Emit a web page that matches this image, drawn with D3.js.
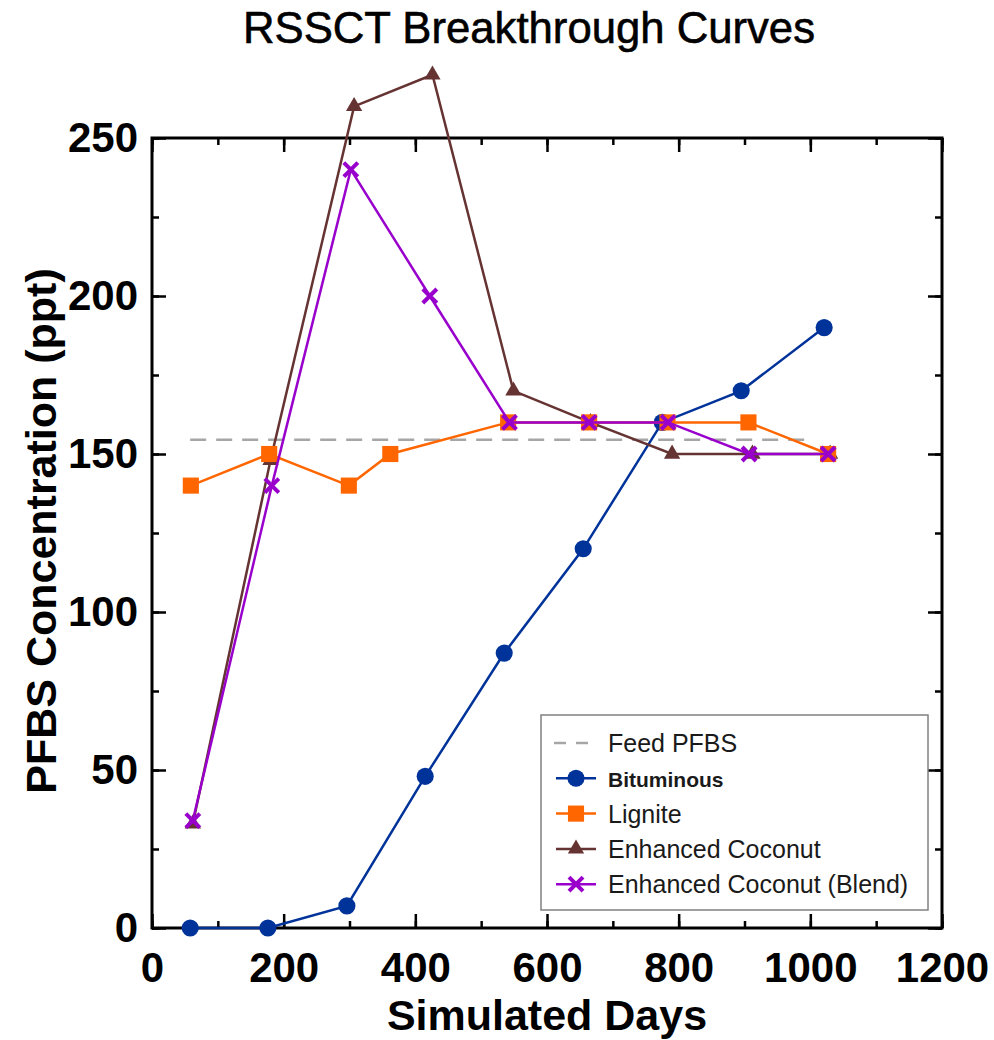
<!DOCTYPE html>
<html>
<head>
<meta charset="utf-8">
<script src="https://cdn.jsdelivr.net/npm/d3@7"></script>
<style>
  body { margin: 0; background: #fff; }
  text { font-family: "Liberation Sans", Arial, sans-serif; }
</style>
</head>
<body>
<div id="svg-area"></div>
<script>
// chart data
var bituminousDays = [58, 176, 296, 415, 535, 655, 775, 895, 1021];
var bituminousPFBS = [0, 0, 7, 48, 87, 120, 160, 170, 190];

var ligniteDays = [59, 178, 299, 362, 541, 664, 783, 906, 1027];
var lignitePFBS = [140, 150, 140, 150, 160, 160, 160, 160, 150];

var coconutDays = [62, 180, 307, 426, 549, 666, 790, 912, 1030];
var coconutPFBS = [33, 148, 260, 270, 170, 160, 150, 150, 150];

var blendDays = [62, 182, 302, 422, 543, 664, 784, 907, 1027];
var blendPFBS = [34, 140, 240, 200, 160, 160, 160, 150, 150];

var feedDays = [58, 1000];
var feedPFBS = [154.5, 154.5];

var xTickValues = [0, 200, 400, 600, 800, 1000, 1200];
var yTickValues = [0, 50, 100, 150, 200, 250];

var legendLabels = ["Feed PFBS", "Bituminous", "Lignite", "Enhanced Coconut", "Enhanced Coconut (Blend)"];

// layout
var svgWidth = 994;
var svgHeight = 1040;
var margin = { top: 138, right: 52, bottom: 112, left: 152 };
var chartWidth = svgWidth - margin.left - margin.right;
var chartHeight = svgHeight - margin.top - margin.bottom;

var svg = d3.select("#svg-area")
  .append("svg")
  .attr("width", svgWidth)
  .attr("height", svgHeight);

var chartGroup = svg.append("g")
  .attr("transform", `translate(${margin.left}, ${margin.top})`);

var xScale = d3.scaleLinear().domain([0, 1200]).range([0, chartWidth]);
var yScale = d3.scaleLinear().domain([0, 250]).range([chartHeight, 0]);

// title
svg.append("text")
  .attr("x", 529)
  .attr("y", 43)
  .attr("text-anchor", "middle")
  .attr("font-family", "'DejaVu Sans Condensed', 'DejaVu Sans', sans-serif")
  .attr("font-size", 45)
  .attr("textLength", 572)
  .attr("lengthAdjust", "spacingAndGlyphs")
  .attr("stroke", "#000")
  .attr("stroke-width", 0.6)
  .text("RSSCT Breakthrough Curves");

// ticks, inside, on all four sides
function tickLines(g, axisFn, scale, values, size) {
  g.call(axisFn(scale).tickValues(values).tickSize(size).tickFormat(""))
    .call(s => s.select(".domain").remove())
    .call(s => s.selectAll("line").attr("stroke", "#000").attr("stroke-width", 2.5));
}
var xMinor = d3.range(0, 1201, 100);
var yMinor = d3.range(0, 251, 25);

tickLines(chartGroup.append("g").attr("transform", `translate(0,${chartHeight})`), d3.axisTop, xScale, xMinor, 7);
tickLines(chartGroup.append("g").attr("transform", `translate(0,${chartHeight})`), d3.axisTop, xScale, xTickValues, 14);
tickLines(chartGroup.append("g"), d3.axisBottom, xScale, xMinor, 7);
tickLines(chartGroup.append("g"), d3.axisBottom, xScale, xTickValues, 14);
tickLines(chartGroup.append("g"), d3.axisRight, yScale, yMinor, 7);
tickLines(chartGroup.append("g"), d3.axisRight, yScale, yTickValues, 14);
tickLines(chartGroup.append("g").attr("transform", `translate(${chartWidth},0)`), d3.axisLeft, yScale, yMinor, 7);
tickLines(chartGroup.append("g").attr("transform", `translate(${chartWidth},0)`), d3.axisLeft, yScale, yTickValues, 14);

// tick labels
var bottomAxis = d3.axisBottom(xScale).tickValues(xTickValues).tickSize(0).tickPadding(24).tickFormat(d3.format("d"));
chartGroup.append("g")
  .attr("transform", `translate(0,${chartHeight})`)
  .call(bottomAxis)
  .call(g => g.select(".domain").remove())
  .selectAll("text")
  .attr("font-family", "'Liberation Sans', Arial, sans-serif")
  .attr("font-size", 42)
  .attr("font-weight", "bold")
  .attr("fill", "#000");

var leftAxis = d3.axisLeft(yScale).tickValues(yTickValues).tickSize(0).tickPadding(14);
chartGroup.append("g")
  .call(leftAxis)
  .call(g => g.select(".domain").remove())
  .selectAll("text")
  .attr("font-family", "'Liberation Sans', Arial, sans-serif")
  .attr("font-size", 42)
  .attr("font-weight", "bold")
  .attr("fill", "#000");

// frame
chartGroup.append("rect")
  .attr("width", chartWidth)
  .attr("height", chartHeight)
  .attr("fill", "none")
  .attr("stroke", "#000")
  .attr("stroke-width", 3);

// axis titles
svg.append("text")
  .attr("x", 547)
  .attr("y", 1030)
  .attr("text-anchor", "middle")
  .attr("font-size", 43)
  .attr("font-weight", "bold")
  .text("Simulated Days");

svg.append("text")
  .attr("transform", "translate(56,531) rotate(-90)")
  .attr("text-anchor", "middle")
  .attr("font-size", 43)
  .attr("font-weight", "bold")
  .text("PFBS Concentration (ppt)");

// series
var line = d3.line().x(d => xScale(d[0])).y(d => yScale(d[1]));
var zip = (xs, ys) => xs.map((x, i) => [x, ys[i]]);

chartGroup.append("path")
  .datum(zip(feedDays, feedPFBS))
  .attr("d", line)
  .attr("fill", "none")
  .attr("stroke", "#a6a6a6")
  .attr("stroke-width", 2.5)
  .attr("stroke-dasharray", "16,10");

var bituminous = { data: zip(bituminousDays, bituminousPFBS), color: "#00339a", shape: d3.symbolCircle, size: 230 };
var lignite = { data: zip(ligniteDays, lignitePFBS), color: "#ff6600", shape: d3.symbolSquare, size: 260 };
var coconut = { data: zip(coconutDays, coconutPFBS), color: "#663333", shape: d3.symbolTriangle, size: 115 };
var blend = { data: zip(blendDays, blendPFBS), color: "#9900cc", shape: "x", size: 7 };

var legendSeries = [bituminous, lignite, coconut, blend];
var drawOrder = [bituminous, coconut, lignite, blend];

function drawMarker(g, s) {
  if (s.shape === "x") {
    g.append("path")
      .attr("d", `M${-s.size},${-s.size}L${s.size},${s.size}M${-s.size},${s.size}L${s.size},${-s.size}`)
      .attr("stroke", s.color)
      .attr("stroke-width", 4)
      .attr("fill", "none");
  } else {
    g.append("path")
      .attr("d", d3.symbol().type(s.shape).size(s.size)())
      .attr("fill", s.color);
  }
}

drawOrder.forEach(function(s) {
  chartGroup.append("path")
    .datum(s.data)
    .attr("d", line)
    .attr("fill", "none")
    .attr("stroke", s.color)
    .attr("stroke-width", 2.5);

  chartGroup.selectAll(null)
    .data(s.data)
    .enter()
    .append("g")
    .attr("transform", d => `translate(${xScale(d[0])},${yScale(d[1])})`)
    .each(function() { drawMarker(d3.select(this), s); });
});

// legend
var legend = svg.append("g").attr("transform", "translate(541,715)");
legend.append("rect")
  .attr("width", 387)
  .attr("height", 195)
  .attr("fill", "#fff")
  .attr("stroke", "#808080")
  .attr("stroke-width", 1.5);

legendLabels.forEach(function(label, i) {
  var y = 28 + i * 35.3;
  var row = legend.append("g").attr("transform", `translate(0,${y})`);
  if (i === 0) {
    row.append("line")
      .attr("x1", 13).attr("x2", 57)
      .attr("stroke", "#a6a6a6")
      .attr("stroke-width", 2.5)
      .attr("stroke-dasharray", "12,10");
  } else {
    var s = legendSeries[i - 1];
    row.append("line")
      .attr("x1", 15).attr("x2", 55)
      .attr("stroke", s.color)
      .attr("stroke-width", 2.5);
    var m = row.append("g").attr("transform", "translate(35,0)");
    drawMarker(m, s);
  }
  row.append("text")
    .attr("x", 67)
    .attr("y", 9)
    .attr("font-size", i === 1 ? 21 : 25)
    .attr("font-weight", i === 1 ? "bold" : "normal")
    .attr("fill", "#1a1a1a")
    .text(label);
});
</script>
</body>
</html>
